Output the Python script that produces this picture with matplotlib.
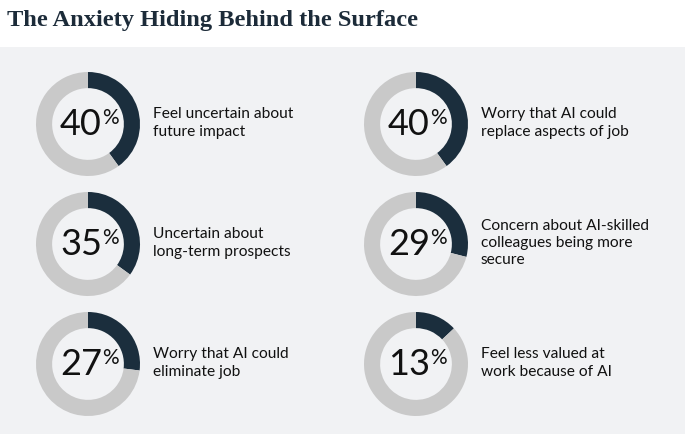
import matplotlib.pyplot as plt

plt.rcParams['font.family'] = ['Lato', 'DejaVu Sans']

# data
values = [40, 40, 35, 29, 27, 13]
labels = [
    'Feel uncertain about\nfuture impact',
    'Worry that AI could\nreplace aspects of job',
    'Uncertain about\nlong-term prospects',
    'Concern about AI-skilled\ncolleagues being more\nsecure',
    'Worry that AI could\neliminate job',
    'Feel less valued at\nwork because of AI',
]
title = 'The Anxiety Hiding Behind the Surface'

W, H = 685, 435
dark = '#1b2e3d'
grey = '#c9c9c9'
panel = '#f1f2f4'

fig = plt.figure(figsize=(W / 100, H / 100), dpi=100)
fig.patch.set_facecolor('white')

# grey panel under the title
bg = fig.add_axes([0, 0, 1, (H - 48) / H])
bg.set_facecolor(panel)
bg.set_xticks([])
bg.set_yticks([])
for s in bg.spines.values():
    s.set_visible(False)

fig.text(7 / W, 1 - 26 / H, title, family='Liberation Serif', weight='bold',
         fontsize=17.6, color='#1c2b39', va='baseline', ha='left')

col_x = [88, 416]
row_y = [125, 245, 365]
r = 52

for i, (v, lab) in enumerate(zip(values, labels)):
    cx = col_x[i % 2]
    cy = row_y[i // 2]
    ax = fig.add_axes([(cx - r) / W, 1 - (cy + r) / H, 2 * r / W, 2 * r / H])
    ax.pie([v, 100 - v], colors=[dark, grey], startangle=90, counterclock=False,
           radius=1, wedgeprops=dict(width=0.31, linewidth=0))
    ax.set_xlim(-1, 1)
    ax.set_ylim(-1, 1)
    ax.set_aspect('equal')
    ax.axis('off')

    # percentage in the middle
    fig.text((cx + 14) / W, 1 - (cy + 10) / H, str(v), fontsize=26,
             color='#111111', ha='right', va='baseline')
    fig.text((cx + 14) / W, 1 - (cy - 1) / H, '%', fontsize=15,
             color='#111111', ha='left', va='baseline')

    fig.text((cx + 65) / W, 1 - (cy - 2) / H, lab, fontsize=11.2,
             color='#111111', ha='left', va='center', linespacing=1.3)

fig.savefig('out.png', dpi=100)
